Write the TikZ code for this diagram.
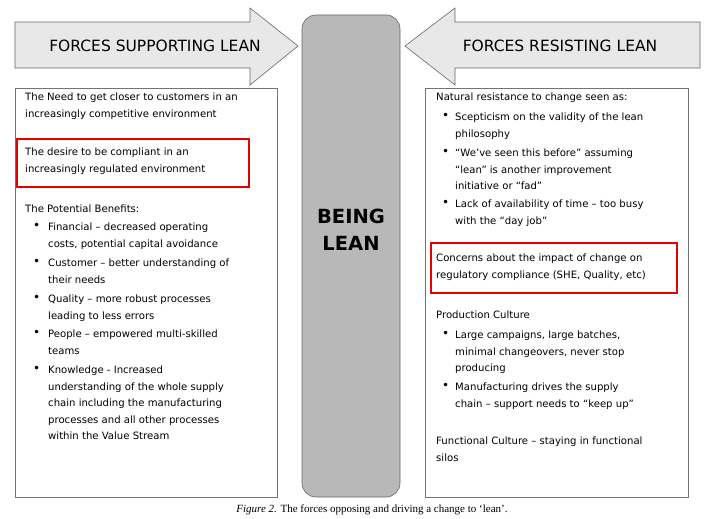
\documentclass[tikz,border=0pt]{standalone}
\usepackage{fontspec}
\setmainfont{DejaVu Sans}
\newfontfamily\capfont{Liberation Serif}
\usepackage{tikz}

\newcommand{\bodyfs}{\fontsize{10.1}{16.4}\selectfont}
\newcommand{\bul}{\raisebox{-0.5pt}{\large\textbullet}}

\begin{document}
\begin{tikzpicture}[x=1pt,y=-1pt]
        \tikzset{txt/.style={anchor=north west,align=left,inner sep=0pt,font=\bodyfs}}
        \tikzset{force/.style={draw=black!60,fill=black!9,line width=0.6pt}}
        \tikzset{redbox/.style={draw=red!90!black,line width=1.6pt}}
        \useasboundingbox (0,0) rectangle (705,519);

        % arrows
        \draw[force] (15,22) -- (250,22) -- (250,8) -- (298,46) -- (250,85) -- (250,68) -- (15,68) -- cycle;
        \draw[force] (700,22) -- (455,22) -- (455,8) -- (405,46) -- (455,85) -- (455,68) -- (700,68) -- cycle;
        \node[font=\fontsize{15.5}{18}\selectfont] (sup) at (155,46) {FORCES SUPPORTING LEAN};
        \node[font=\fontsize{15.5}{18}\selectfont] (res) at (560,46) {FORCES RESISTING LEAN};

        % centre
        \draw[draw=black!60,fill=black!28,line width=0.6pt,rounded corners=14pt] (302,15) rectangle (400,497);
        \node[font=\bfseries\fontsize{19.5}{27}\selectfont,align=center] (lean) at (351,230) {BEING\\LEAN};

        % boxes
        \draw[draw=black!55,line width=0.6pt] (15,88) rectangle (277,497);
        \draw[draw=black!55,line width=0.6pt] (425,88) rectangle (688,497);
        \draw[redbox] (17,139) rectangle (249,187);
        \draw[redbox] (431,243) rectangle (677,293);

        % left
        \node[txt] (l1) at (25,93) {The Need to get closer to customers in an\\increasingly competitive environment};
        \node[txt] (l2) at (25,148) {The desire to be compliant in an\\increasingly regulated environment};
        \node[txt] (l3) at (25,205) {The Potential Benefits:};
        \foreach \y/\t in {223/{Financial -- decreased operating\\costs, potential capital avoidance},
                           259/{Customer -- better understanding of\\their needs},
                           295/{Quality -- more robust processes\\leading to less errors},
                           330/{People -- empowered multi-skilled\\teams},
                           366/{Knowledge - Increased\\understanding of the whole supply\\chain including the manufacturing\\processes and all other processes\\within the Value Stream}}{
            \node[txt] at (33,\y) {\bul};
            \node[txt] at (48,\y) {\t};
        }

        % right
        \node[txt] (r1) at (436,93) {Natural resistance to change seen as:};
        \foreach \y/\t in {113/{Scepticism on the validity of the lean\\philosophy},
                           149/{``We've seen this before'' assuming\\``lean'' is another improvement\\initiative or ``fad''},
                           200/{Lack of availability of time -- too busy\\with the ``day job''}}{
            \node[txt] at (442,\y) {\bul};
            \node[txt] at (455,\y) {\t};
        }
        \node[txt] (r2) at (436,254) {Concerns about the impact of change on\\regulatory compliance (SHE, Quality, etc)};
        \node[txt] (r3) at (436,311) {Production Culture};
        \foreach \y/\t in {331/{Large campaigns, large batches,\\minimal changeovers, never stop\\producing},
                           383/{Manufacturing drives the supply\\chain -- support needs to ``keep up''}}{
            \node[txt] at (442,\y) {\bul};
            \node[txt] at (455,\y) {\t};
        }
        \node[txt] (r4) at (436,437) {Functional Culture -- staying in functional\\silos};

        % caption
        \node[font=\capfont\fontsize{11}{13}\selectfont] (cap) at (372,510) {\textit{Figure 2.} The forces opposing and driving a change to ‘lean’.};
\end{tikzpicture}
\end{document}
